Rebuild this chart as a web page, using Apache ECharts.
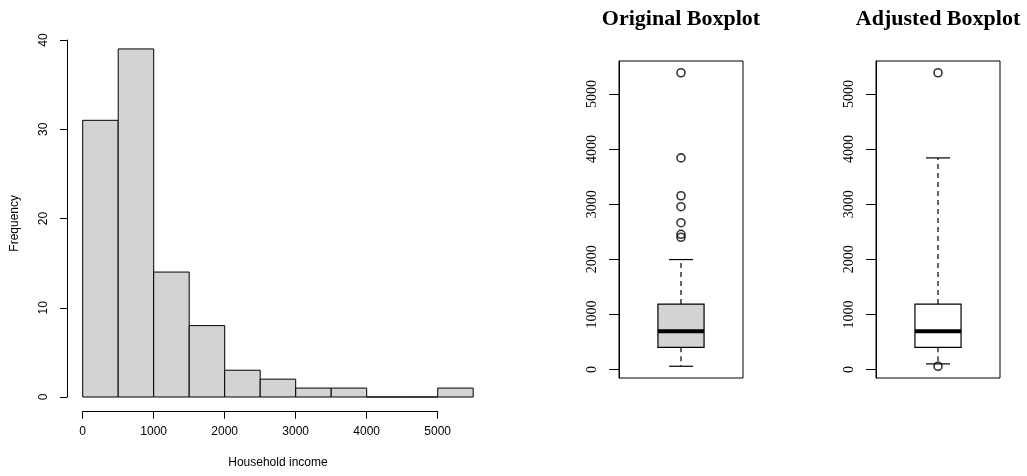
<!DOCTYPE html>
<html><head><meta charset="utf-8">
<script src="https://cdn.jsdelivr.net/npm/echarts@6/dist/echarts.min.js"></script>
<style>html,body{margin:0;padding:0;background:#fff}#c{width:1027px;height:476px}</style>
</head><body><div id="c"></div>
<script>
// ---- data ----
const binEdges = [0,500,1000,1500,2000,2500,3000,3500,4000,4500,5000,5500];
const binCounts = [31,39,14,8,3,2,1,1,0,0,1];
const histXTicks = [0,1000,2000,3000,4000,5000];
const histYTicks = [0,10,20,30,40];
const boxYTicks = [0,1000,2000,3000,4000,5000];
// [lower whisker, Q1, median, Q3, upper whisker]
const origStats = [60,403,693,1188,1996];
const origOutliers = [2400,2455,2665,2955,3154,3841,5386];
const adjStats = [103,403,693,1188,3841];
const adjOutliers = [60,5386];

// ---- derived ----
const histData = binCounts.map((c,i)=>[binEdges[i], binEdges[i+1], c]);
const allVals = origStats.concat(origOutliers, adjStats, adjOutliers);
const vLo = Math.min(...allVals), vHi = Math.max(...allVals);
const vPad = 0.04*(vHi - vLo);
const boxMin = vLo - vPad, boxMax = vHi + vPad;

const BOX_HALF = 0.186;
const SANS = 'Liberation Sans', SERIF = 'Liberation Serif';
const plain = v => String(v);

function boxRender(fill){
  return function(params, api){
    const x = api.value(0);
    const lo=api.value(1), q1=api.value(2), med=api.value(3), q3=api.value(4), hi=api.value(5);
    const half = api.size([BOX_HALF,0])[0];
    const cap = half*0.52;
    const cx = api.coord([x, med])[0];
    const y = v => api.coord([x, v])[1];
    const solid = {stroke:'#000', lineWidth:1.2};
    const dash = {stroke:'#000', lineWidth:1.2, lineDash:[5,4]};
    return {type:'group', children:[
      {type:'line', shape:{x1:cx,y1:y(q3),x2:cx,y2:y(hi)}, style:dash},
      {type:'line', shape:{x1:cx,y1:y(q1),x2:cx,y2:y(lo)}, style:dash},
      {type:'line', shape:{x1:cx-cap,y1:y(hi),x2:cx+cap,y2:y(hi)}, style:solid},
      {type:'line', shape:{x1:cx-cap,y1:y(lo),x2:cx+cap,y2:y(lo)}, style:solid},
      {type:'rect', shape:{x:cx-half,y:y(q3),width:2*half,height:y(q1)-y(q3)}, style:{fill:fill,stroke:'#000',lineWidth:1.2}},
      {type:'line', shape:{x1:cx-half,y1:y(med),x2:cx+half,y2:y(med)}, style:{stroke:'#000',lineWidth:4}}
    ]};
  };
}

const hidden = {axisLine:{show:false, onZero:false}, axisTick:{show:false}, axisLabel:{show:false}, splitLine:{show:false}};

function boxY(gi){
  return {type:'value', gridIndex:gi, min:boxMin, max:boxMax,
    axisLine:{show:true, onZero:false, lineStyle:{color:'#000', width:1}},
    axisTick:{show:true, length:10, lineStyle:{color:'#000'}, customValues:boxYTicks},
    axisLabel:{show:true, rotate:90, margin:20, color:'#000', fontFamily:SERIF, fontSize:14, customValues:boxYTicks, formatter:plain},
    splitLine:{show:false}};
}
function boxX(gi, title){
  return Object.assign({type:'value', gridIndex:gi, min:0.5, max:1.5, position:'top',
    name:title, nameLocation:'middle', nameGap:31,
    nameTextStyle:{fontFamily:SERIF, fontWeight:'bold', fontSize:22, color:'#000'}}, hidden);
}

const option = {
  animation:false,
  backgroundColor:'#fff',
  grid:[
    {left:82.7, top:40, width:390.5, height:357},
    {left:82.7, top:35, width:355, height:376.7},
    {left:619, top:61, width:124, height:317, show:true, borderColor:'#000', borderWidth:1},
    {left:876, top:61, width:124, height:317, show:true, borderColor:'#000', borderWidth:1}
  ],
  xAxis:[
    Object.assign({type:'value', gridIndex:0, min:binEdges[0], max:binEdges[binEdges.length-1],
      name:'Household income', nameLocation:'middle', nameGap:60,
      nameTextStyle:{fontFamily:SANS, fontSize:12, color:'#000'}}, hidden),
    {type:'value', gridIndex:1, min:histXTicks[0], max:histXTicks[histXTicks.length-1], interval:1000,
      axisLine:{show:true, onZero:false, lineStyle:{color:'#000', width:1}},
      axisTick:{show:true, length:7, lineStyle:{color:'#000'}},
      axisLabel:{show:true, margin:14, color:'#000', fontFamily:SANS, fontSize:12, showMinLabel:true, showMaxLabel:true, formatter:plain},
      splitLine:{show:false}},
    boxX(2, 'Original Boxplot'),
    boxX(3, 'Adjusted Boxplot')
  ],
  yAxis:[
    {type:'value', gridIndex:0, min:histYTicks[0], max:histYTicks[histYTicks.length-1], interval:10, offset:15.7,
      axisLine:{show:true, onZero:false, lineStyle:{color:'#000', width:1}},
      axisTick:{show:true, length:7, lineStyle:{color:'#000'}},
      axisLabel:{show:true, rotate:90, margin:17, color:'#000', fontFamily:SANS, fontSize:12, showMinLabel:true, showMaxLabel:true, formatter:plain},
      splitLine:{show:false}},
    Object.assign({type:'value', gridIndex:1, min:0, max:1,
      name:'Frequency', nameLocation:'middle', nameGap:62, nameRotate:90,
      nameTextStyle:{fontFamily:SANS, fontSize:12, color:'#000'}}, hidden),
    boxY(2),
    boxY(3)
  ],
  series:[
    {type:'custom', xAxisIndex:0, yAxisIndex:0, clip:false, data:histData,
      encode:{x:[0,1], y:2},
      renderItem:function(params, api){
        const p0 = api.coord([api.value(0), api.value(2)]);
        const p1 = api.coord([api.value(1), 0]);
        return {type:'rect', shape:{x:p0[0], y:p0[1], width:p1[0]-p0[0], height:p1[1]-p0[1]},
          style:{fill:'#D3D3D3', stroke:'#000', lineWidth:1}};
      }},
    {type:'custom', xAxisIndex:2, yAxisIndex:2, clip:false,
      data:[[1].concat(origStats)], encode:{x:0, y:[1,2,3,4,5]}, renderItem:boxRender('#D3D3D3')},
    {type:'scatter', xAxisIndex:2, yAxisIndex:2, symbol:'circle', symbolSize:8,
      itemStyle:{color:'transparent', borderColor:'#000', borderWidth:1.6},
      data:origOutliers.map(v=>[1,v])},
    {type:'custom', xAxisIndex:3, yAxisIndex:3, clip:false,
      data:[[1].concat(adjStats)], encode:{x:0, y:[1,2,3,4,5]}, renderItem:boxRender('#FFFFFF')},
    {type:'scatter', xAxisIndex:3, yAxisIndex:3, symbol:'circle', symbolSize:8,
      itemStyle:{color:'transparent', borderColor:'#000', borderWidth:1.6},
      data:adjOutliers.map(v=>[1,v])}
  ]
};
const chart = echarts.init(document.getElementById('c'), null, {renderer:'canvas'});
chart.setOption(option);
</script></body></html>
